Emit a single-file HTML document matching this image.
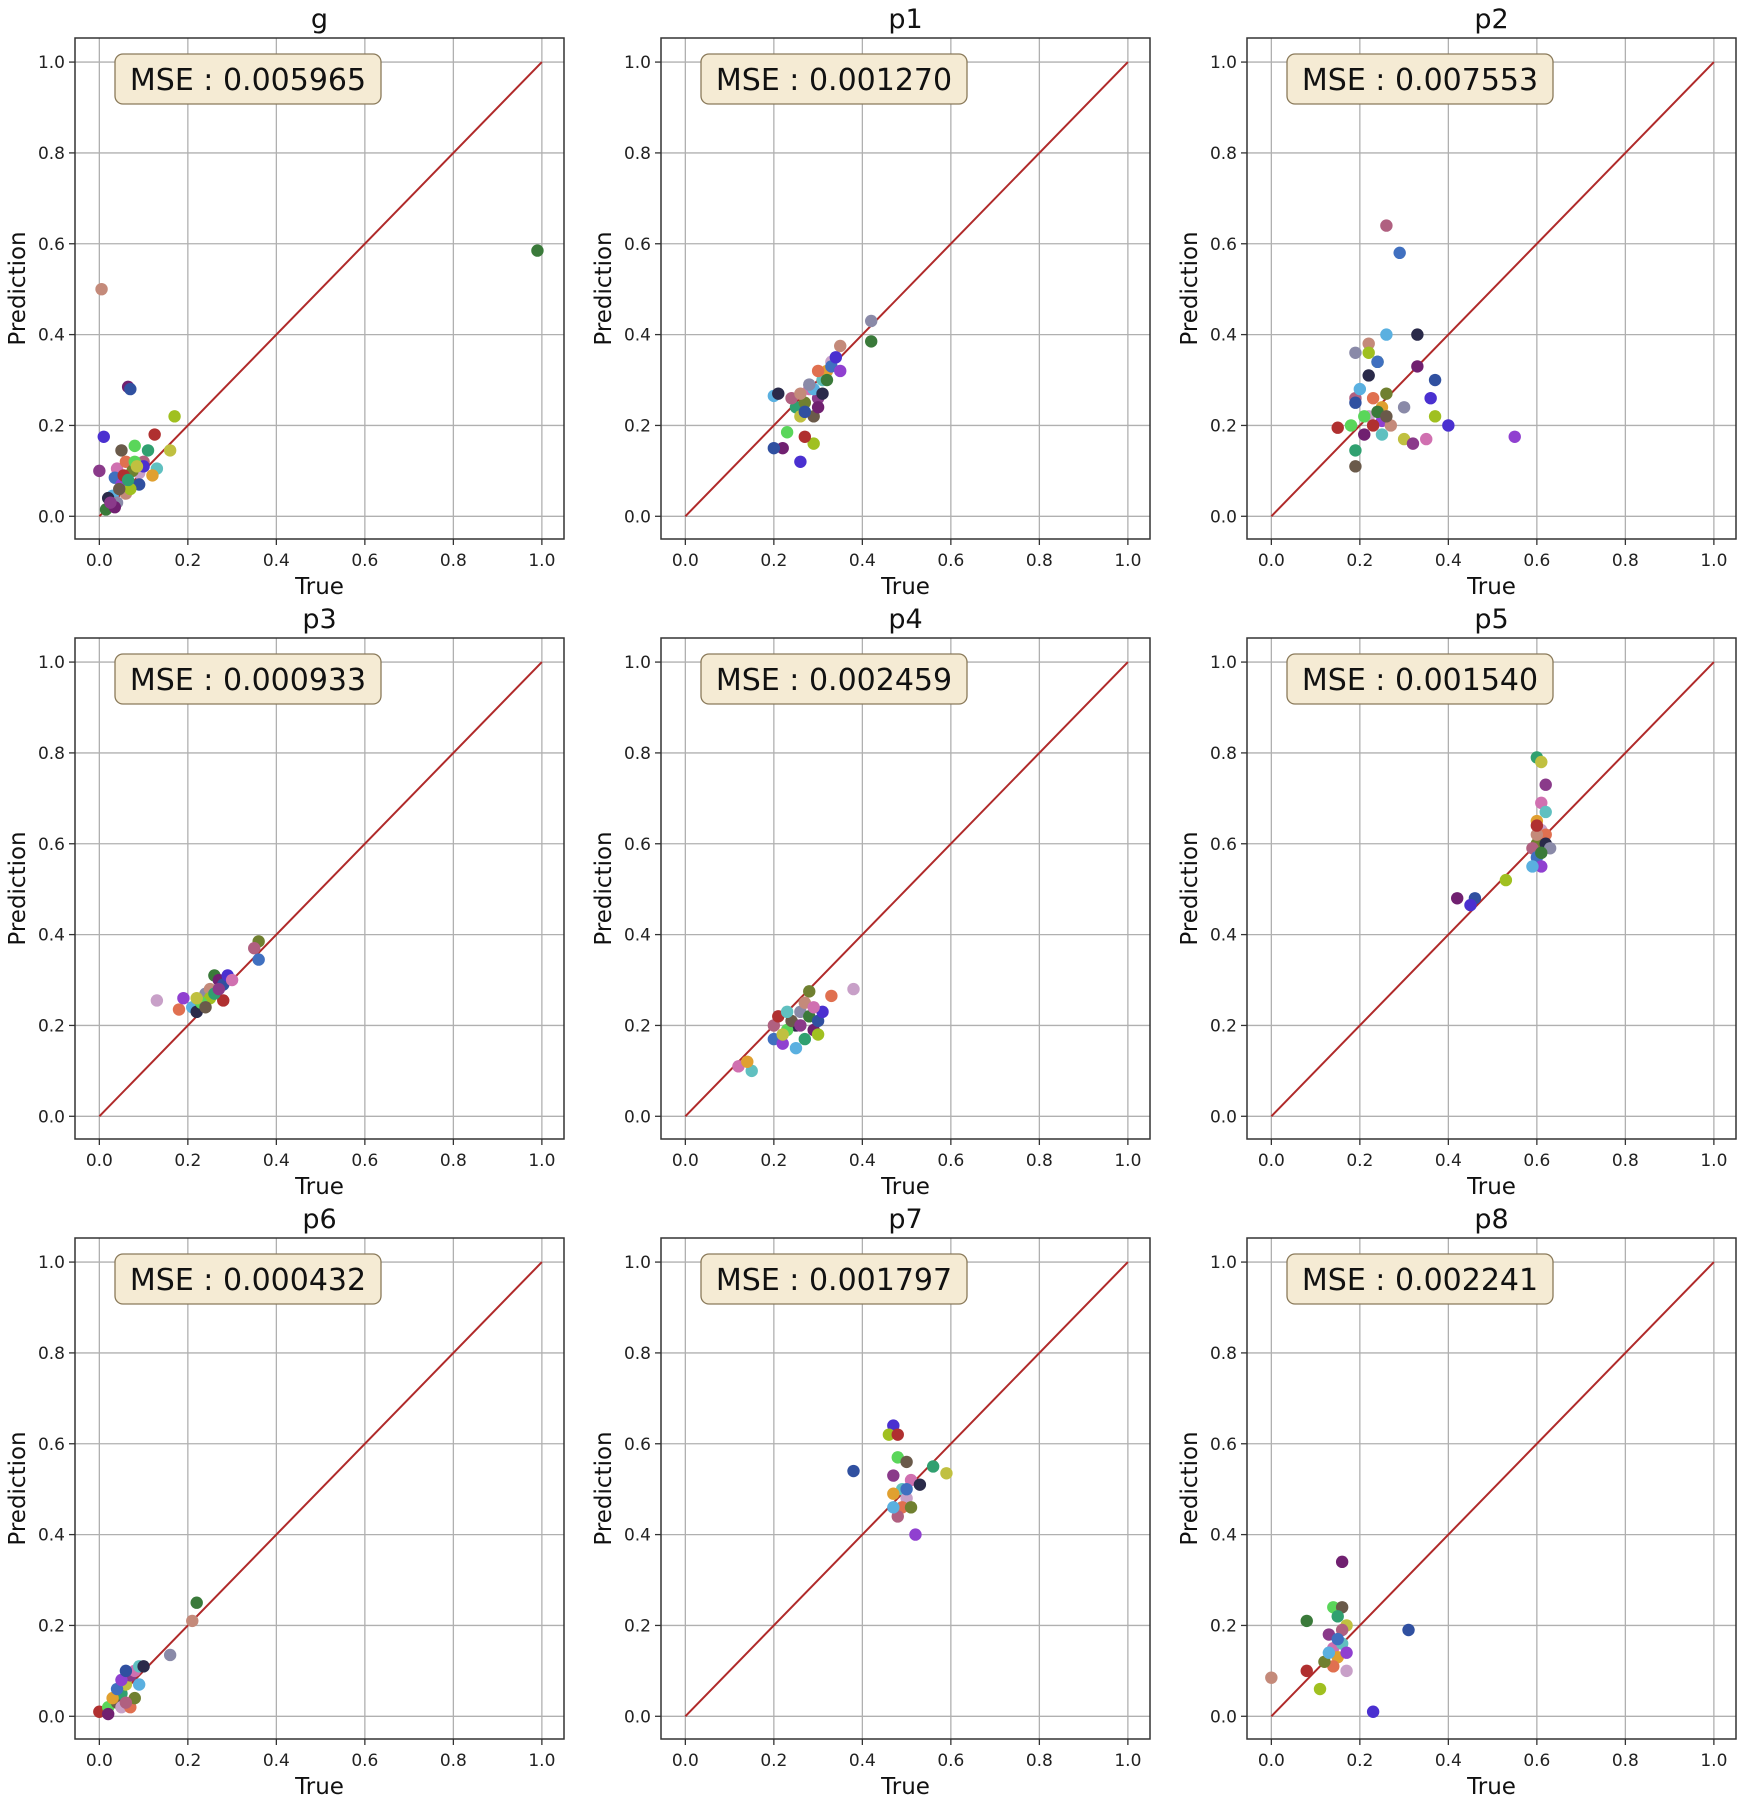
<!DOCTYPE html>
<html><head><meta charset="utf-8">
<style>
html,body{margin:0;padding:0;background:#fff;}
svg{display:block;font-family:"DejaVu Sans","Liberation Sans",sans-serif;}
</style></head>
<body>
<svg id="fig" width="1748" height="1805" viewBox="0 0 1748 1805" xmlns="http://www.w3.org/2000/svg"></svg>
<script>
const panelNames=["g","p1","p2","p3","p4","p5","p6","p7","p8"];
const mseValues=["0.005965","0.001270","0.007553","0.000933","0.002459","0.001540","0.000432","0.001797","0.002241"];
const tickValues=[0,0.2,0.4,0.6,0.8,1.0];
const tickLabels=["0.0","0.2","0.4","0.6","0.8","1.0"];

const g_x=[0.005,0.99,0.065,0.07,0.01,0.17,0.125,0.08,0.05,0.11,0.16,0.0,0.04,0.13,0.12,0.09,0.06,0.075,0.1,0.035,0.05,0.03,0.02,0.04,0.06,0.015,0.035,0.09,0.1,0.07,0.055,0.08,0.045,0.065,0.085,0.025];
const g_y=[0.5,0.585,0.285,0.28,0.175,0.22,0.18,0.155,0.145,0.145,0.145,0.1,0.105,0.105,0.09,0.095,0.12,0.1,0.12,0.085,0.07,0.045,0.04,0.03,0.05,0.015,0.02,0.07,0.11,0.06,0.09,0.12,0.06,0.08,0.11,0.03];
const p1_x=[0.2,0.21,0.42,0.35,0.42,0.22,0.2,0.26,0.29,0.27,0.23,0.29,0.25,0.26,0.3,0.28,0.31,0.32,0.33,0.3,0.27,0.24,0.33,0.35,0.29,0.31,0.28,0.26,0.32,0.3,0.27,0.34];
const p1_y=[0.265,0.27,0.43,0.375,0.385,0.15,0.15,0.12,0.16,0.175,0.185,0.22,0.24,0.22,0.26,0.28,0.3,0.32,0.34,0.32,0.25,0.26,0.33,0.32,0.28,0.27,0.29,0.27,0.3,0.24,0.23,0.35];
const p2_x=[0.26,0.29,0.55,0.26,0.33,0.19,0.22,0.24,0.33,0.37,0.36,0.37,0.15,0.18,0.19,0.19,0.3,0.32,0.35,0.25,0.25,0.22,0.23,0.26,0.19,0.24,0.25,0.2,0.22,0.3,0.27,0.24,0.21,0.19,0.4,0.22,0.23,0.21,0.26];
const p2_y=[0.64,0.58,0.175,0.4,0.4,0.36,0.38,0.34,0.33,0.3,0.26,0.22,0.195,0.2,0.11,0.145,0.17,0.16,0.17,0.18,0.24,0.22,0.26,0.27,0.26,0.34,0.21,0.28,0.31,0.24,0.2,0.23,0.18,0.25,0.2,0.36,0.2,0.22,0.22];
const p3_x=[0.13,0.18,0.36,0.35,0.36,0.19,0.21,0.22,0.24,0.25,0.26,0.27,0.28,0.29,0.25,0.28,0.23,0.24,0.26,0.22,0.27,0.3];
const p3_y=[0.255,0.235,0.385,0.37,0.345,0.26,0.24,0.23,0.27,0.28,0.31,0.3,0.29,0.31,0.26,0.255,0.25,0.24,0.27,0.26,0.28,0.3];
const p4_x=[0.12,0.15,0.14,0.38,0.33,0.28,0.2,0.2,0.22,0.25,0.25,0.26,0.27,0.28,0.29,0.3,0.31,0.3,0.21,0.23,0.24,0.27,0.22,0.26,0.29,0.23];
const p4_y=[0.11,0.1,0.12,0.28,0.265,0.275,0.2,0.17,0.16,0.15,0.2,0.23,0.25,0.22,0.19,0.21,0.23,0.18,0.22,0.19,0.21,0.17,0.18,0.2,0.24,0.23];
const p5_x=[0.6,0.61,0.62,0.61,0.62,0.6,0.61,0.62,0.6,0.59,0.6,0.61,0.59,0.62,0.63,0.6,0.61,0.42,0.46,0.45,0.53,0.6];
const p5_y=[0.79,0.78,0.73,0.69,0.67,0.65,0.63,0.62,0.6,0.59,0.57,0.55,0.55,0.6,0.59,0.62,0.58,0.48,0.48,0.465,0.52,0.64];
const p6_x=[0.0,0.02,0.04,0.05,0.06,0.07,0.08,0.09,0.03,0.05,0.07,0.08,0.06,0.04,0.05,0.09,0.1,0.16,0.21,0.22,0.02,0.06];
const p6_y=[0.01,0.02,0.03,0.05,0.07,0.09,0.1,0.11,0.04,0.02,0.02,0.04,0.03,0.06,0.08,0.07,0.11,0.135,0.21,0.25,0.005,0.1];
const p7_x=[0.38,0.47,0.46,0.48,0.48,0.5,0.56,0.59,0.47,0.51,0.49,0.47,0.5,0.49,0.51,0.48,0.5,0.52,0.47,0.53];
const p7_y=[0.54,0.64,0.62,0.62,0.57,0.56,0.55,0.535,0.53,0.52,0.5,0.49,0.48,0.46,0.46,0.44,0.5,0.4,0.46,0.51];
const p8_x=[0.0,0.08,0.16,0.31,0.23,0.11,0.08,0.14,0.16,0.15,0.17,0.13,0.14,0.16,0.15,0.17,0.14,0.12,0.16,0.15,0.17,0.13];
const p8_y=[0.085,0.21,0.34,0.19,0.01,0.06,0.1,0.24,0.24,0.22,0.2,0.18,0.15,0.16,0.13,0.1,0.11,0.12,0.19,0.17,0.14,0.14];

const seriesX=[g_x,p1_x,p2_x,p3_x,p4_x,p5_x,p6_x,p7_x,p8_x];
const seriesY=[g_y,p1_y,p2_y,p3_y,p4_y,p5_y,p6_y,p7_y,p8_y];

const palette=["#c48a7a","#5ad65a","#e0a030","#5ab0e0","#4a30d0","#8a3a8a","#b06080","#3a7a3a","#6a5a4a","#c8a0c8","#2a2a4a","#a0c020","#d070b0","#4070c0","#702070","#30a070","#e07050","#8a8aa8","#b03030","#60c0c0","#9040d0","#3050a0","#c0c040","#708030"];
const NS="http://www.w3.org/2000/svg";
const svg=document.getElementById("fig");
function mk(tag,attrs,parent){const e=document.createElementNS(NS,tag);for(const k in attrs)e.setAttribute(k,attrs[k]);(parent||svg).appendChild(e);return e;}

const AX_L=75,AX_T=38,AX_W=489,AX_H=501,COL=586,ROW=600;
const XMIN=-0.055,XMAX=1.05,YMIN=-0.05,YMAX=1.053;

panelNames.forEach((name,i)=>{
  const c=i%3,r=Math.floor(i/3);
  const L=AX_L+c*COL,T=AX_T+r*ROW;
  const sx=v=>L+(v-XMIN)/(XMAX-XMIN)*AX_W;
  const sy=v=>T+AX_H-(v-YMIN)/(YMAX-YMIN)*AX_H;
  const g=mk("g",{});
  
  
  tickValues.forEach((t,k)=>{
    const gx=mk("line",{x1:sx(t),x2:sx(t),y1:T,y2:T+AX_H,stroke:"#b0b0b0","stroke-width":1.3},g);
    
    
    const gy=mk("line",{x1:L,x2:L+AX_W,y1:sy(t),y2:sy(t),stroke:"#b0b0b0","stroke-width":1.3},g);
    
    
    mk("line",{x1:sx(t),x2:sx(t),y1:T+AX_H,y2:T+AX_H+6,stroke:"#333","stroke-width":1.3},g);
    mk("line",{x1:L-6,x2:L,y1:sy(t),y2:sy(t),stroke:"#333","stroke-width":1.3},g);
    const xl=mk("text",{x:sx(t),y:T+AX_H+27,"text-anchor":"middle","font-size":17,fill:"#222"},g);
    xl.textContent=tickLabels[k];
    
    
    const yl=mk("text",{x:L-10,y:sy(t)+6,"text-anchor":"end","font-size":17,fill:"#222"},g);
    yl.textContent=tickLabels[k];
    
    
  });
  const d=mk("line",{x1:sx(0),y1:sy(0),x2:sx(1),y2:sy(1),stroke:"#b02a2a","stroke-width":2},g);
  
  
  const xs=seriesX[i],ys=seriesY[i];
  xs.forEach((x,j)=>{
    const p=mk("circle",{cx:sx(x),cy:sy(ys[j]),r:6.2,fill:palette[(j*7+i*3)%palette.length]},g);
    
    
  });
  const f=mk("rect",{x:L,y:T,width:AX_W,height:AX_H,fill:"none",stroke:"#333","stroke-width":1.5},g);
  
  
  const b=mk("rect",{x:L+40,y:T+16,width:266,height:50,rx:8,fill:"#f5ebd4",stroke:"#8a7a5a","stroke-width":1.3},g);
  
  
  const mt=mk("text",{x:L+173,y:T+52,"text-anchor":"middle","font-size":30,fill:"#111"},g);
  mt.textContent="MSE : "+mseValues[i];
  
  
  const tt=mk("text",{x:L+AX_W/2,y:T-10,"text-anchor":"middle","font-size":27,fill:"#111"},g);
  tt.textContent=name;
  
  
  const xt=mk("text",{x:L+AX_W/2,y:T+AX_H+55,"text-anchor":"middle","font-size":23,fill:"#111"},g);
  xt.textContent="True";
  
  
  const yx=L-50,yy=T+AX_H/2;
  const yt=mk("text",{x:yx,y:yy,"text-anchor":"middle","font-size":23,fill:"#111",transform:`rotate(-90 ${yx} ${yy})`},g);
  yt.textContent="Prediction";
  
  
});
</script>
</body></html>
